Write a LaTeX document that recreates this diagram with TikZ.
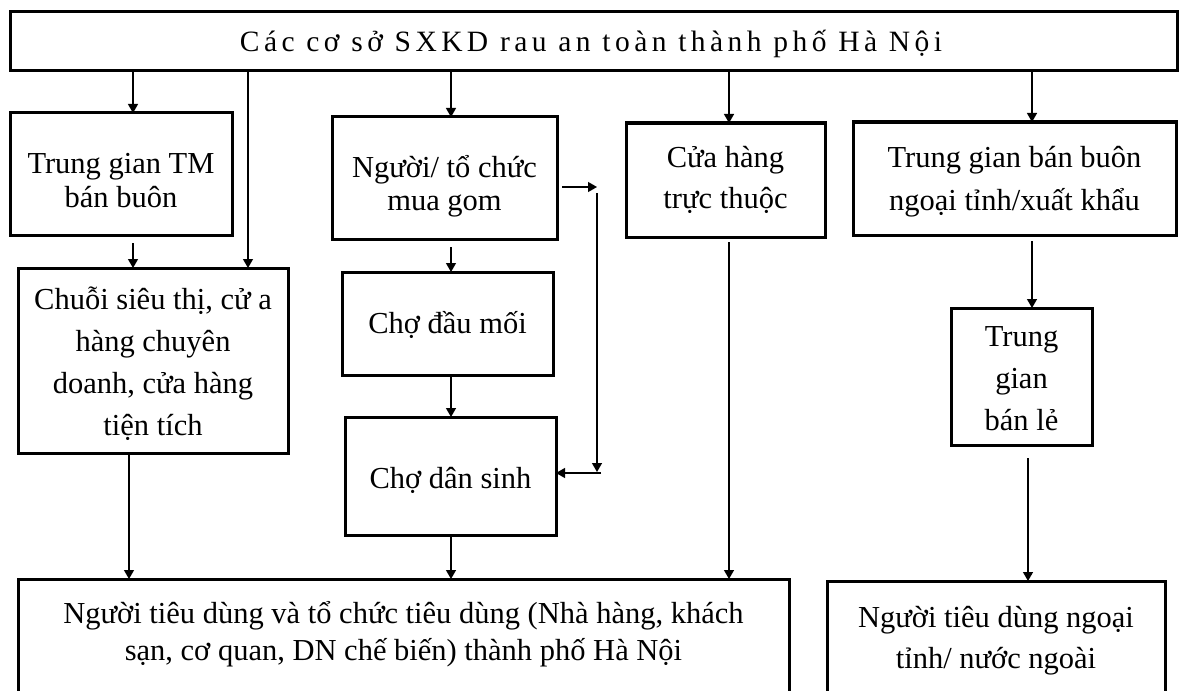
\documentclass[tikz,border=0pt]{standalone}
\usepackage{fontspec}
\setmainfont{Liberation Serif}
\newfontfamily\headfont[LetterSpace=15]{Liberation Serif}
\usetikzlibrary{arrows.meta}
\newcommand{\lblfont}[1]{\fontsize{30.5}{#1}\selectfont}
\begin{document}
\begin{tikzpicture}[x=1pt,y=-1pt,
  box/.style={draw, line width=3pt, inner sep=0pt, outer sep=0pt},
  lbl/.style={align=center, inner sep=0pt, anchor=base},
  arr/.style={line width=1.3pt, -{Triangle[width=10pt,length=9pt]}}]
\useasboundingbox (0,0) rectangle (1182,690);

% boxes
\node[box, minimum width=1167pt, minimum height=59pt]  (top) at (593.5,41.5) {};
\node[box, minimum width=222pt, minimum height=122pt]  (A) at (121,174) {};
\node[box, minimum width=270pt, minimum height=185pt]  (E) at (153,360.5) {};
\node[box, minimum width=225pt, minimum height=122pt]  (B) at (444.5,178) {};
\node[box, minimum width=211pt, minimum height=103pt]  (F) at (447.5,323.5) {};
\node[box, minimum width=211pt, minimum height=118pt]  (G) at (450.5,476) {};
\node[box, minimum width=199pt, minimum height=114pt]  (C) at (725.5,180) {};
\node[box, minimum width=323pt, minimum height=113pt]  (D) at (1014.5,178.5) {};
\node[box, minimum width=141pt, minimum height=137pt]  (I) at (1021.5,376.5) {};
\node[box, minimum width=771pt, minimum height=150pt, anchor=north] (H) at (403.5,579) {};
\node[box, minimum width=338pt, minimum height=150pt, anchor=north] (J) at (996,581) {};

% labels (base = baseline of the last line)
\node[lbl, font=\headfont\fontsize{29.5}{31}\selectfont] (tTop) at (591,52) {Các cơ sở SXKD rau an toàn thành phố Hà Nội};
\node[lbl, font=\lblfont{34}] (tA) at (121,207) {Trung gian TM\\bán buôn};
\node[lbl, font=\lblfont{42}] (tE) at (153,435) {Chuỗi siêu thị, cử a\\hàng chuyên\\doanh, cửa hàng\\tiện tích};
\node[lbl, font=\lblfont{33}] (tB) at (444.5,210) {Người/ tổ chức\\mua gom};
\node[lbl, font=\lblfont{34}] (tF) at (447.5,333) {Chợ đầu mối};
\node[lbl, font=\lblfont{34}] (tG) at (450.5,488) {Chợ dân sinh};
\node[lbl, font=\lblfont{41}] (tC) at (725.5,208) {Cửa hàng\\trực thuộc};
\node[lbl, font=\lblfont{43}] (tD) at (1014.5,210) {Trung gian bán buôn\\ngoại tỉnh/xuất khẩu};
\node[lbl, font=\lblfont{42}] (tI) at (1021.5,430) {Trung\\gian\\bán lẻ};
\node[lbl, font=\lblfont{37}] (tH) at (403.5,660) {Người tiêu dùng và tổ chức tiêu dùng (Nhà hàng, khách\\sạn, cơ quan, DN chế biến) thành phố Hà Nội};
\node[lbl, font=\lblfont{41}] (tJ) at (996,668) {Người tiêu dùng ngoại\\tỉnh/ nước ngoài};

% connector columns
\coordinate (xA) at (133,0);
\coordinate (xE) at (248,0);
\coordinate (xEH) at (129,0);
\coordinate (xB) at (451,0);
\coordinate (xC) at (729,0);
\coordinate (xD) at (1032,0);
\coordinate (xI) at (1028,0);
\coordinate (r2) at (597,187);
\coordinate (r3) at (597,193);
\coordinate (r4) at (597,472);
\coordinate (r5) at (601,473);

% connectors
\draw[arr] (top.south -| xA) -- (A.north -| xA);
\draw[arr, shorten <=8pt] (A.south -| xA) -- (E.north -| xA);
\draw[arr] (top.south -| xE) -- (E.north -| xE);
\draw[arr] (E.south -| xEH) -- (H.north -| xEH);
\draw[arr] (top.south -| xB) -- (B.north -| xB);
\draw[arr, shorten <=8pt] (B.south -| xB) -- (F.north -| xB);
\draw[arr] (F.south -| xB) -- (G.north -| xB);
\draw[arr] (G.south -| xB) -- (H.north -| xB);
\draw[arr] (top.south -| xC) -- (C.north -| xC);
\draw[arr, shorten <=5pt] (C.south -| xC) -- (H.north -| xC);
\draw[arr] (top.south -| xD) -- (D.north -| xD);
\draw[arr, shorten <=6pt] (D.south -| xD) -- (I.north -| xD);
\draw[arr, shorten <=13pt] (I.south -| xI) -- (J.north -| xI);
\draw[arr, shorten <=5pt] (B.east |- r2) -- (r2);
\draw[arr] (r3) -- (r4);
\draw[arr] (r5) -- (G.east |- r5);
\end{tikzpicture}
\end{document}
